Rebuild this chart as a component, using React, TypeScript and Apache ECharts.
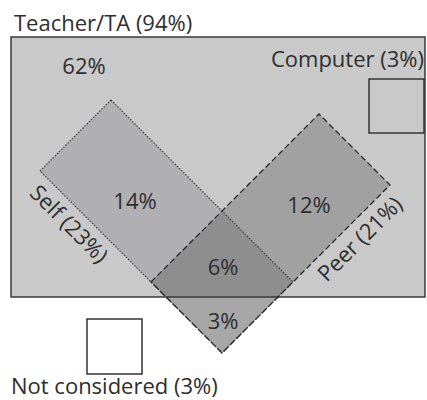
import React, { useEffect, useRef } from "react";
import * as echarts from "echarts";

const setNames = ["Teacher/TA", "Self", "Peer", "Computer", "Not considered"];
const setPercents = [94, 23, 21, 3, 3];
const regionNames = ["Teacher only", "Teacher+Self", "Teacher+Peer", "Teacher+Self+Peer", "Self+Peer"];
const regionPercents = [62, 14, 12, 6, 3];

const FONT = '22px "Open Sans", sans-serif';
const TXT = "#2e2e2e";

export default function App() {
  const ref = useRef<HTMLDivElement>(null);
  useEffect(() => {
    if (!ref.current) return;
    const chart = echarts.init(ref.current, undefined, { renderer: "svg" });

    // layout geometry
    const rect = { x: 11, y: 37, w: 414, h: 260 };
    const cx = 222, cy = 282, h = 71; // intersection diamond
    const top = [cx, cy - h], left = [cx - h, cy], right = [cx + h, cy], bottom = [cx, cy + h];
    const se = 111; // self extension up-left
    const pe = 97; // peer extension up-right
    const selfPoly = [[top[0] - se, top[1] - se], [left[0] - se, left[1] - se], bottom, right];
    const peerPoly = [left, [top[0] + pe, top[1] - pe], [right[0] + pe, right[1] - pe], bottom];
    const ry = rect.y + rect.h;
    const d = ry - cy;
    const innerDiamond = [top, right, [right[0] - d, ry], [left[0] + d, ry], left];

    const pct = (v: number) => `${v}%`;
    const label = (s: string, v: number) => `${s} (${v}%)`;

    const text = (t: string, x: number, y: number, align: string, rotation = 0) => ({
      type: "text",
      x,
      y,
      rotation,
      style: { text: t, fill: TXT, font: FONT, lineHeight: 24, align, verticalAlign: "middle" },
      z: 10,
    });

    chart.setOption({
      animation: false,
      backgroundColor: "#ffffff",
      graphic: [
        { type: "rect", shape: { x: rect.x, y: rect.y, width: rect.w, height: rect.h }, style: { fill: "#c9c9ca", stroke: "none" }, z: 1 },
        { type: "polygon", shape: { points: selfPoly }, style: { fill: "#b0b0b2" }, z: 2 },
        { type: "polygon", shape: { points: peerPoly }, style: { fill: "#a1a1a2" }, z: 2 },
        { type: "polygon", shape: { points: [top, right, bottom, left] }, style: { fill: "#a7a7a8" }, z: 3 },
        { type: "polygon", shape: { points: innerDiamond }, style: { fill: "#8e8e8f" }, z: 3 },
        { type: "rect", shape: { x: rect.x, y: rect.y, width: rect.w, height: rect.h }, style: { fill: "none", stroke: "#3a3a3a", lineWidth: 1.5 }, z: 4 },
        { type: "polygon", shape: { points: selfPoly }, style: { fill: "none", stroke: "#333", lineWidth: 1.3, lineDash: [1.3, 1.7] }, z: 5 },
        { type: "polygon", shape: { points: peerPoly }, style: { fill: "none", stroke: "#2a2a2a", lineWidth: 1.3, lineDash: [6, 3] }, z: 5 },
        { type: "rect", shape: { x: 369, y: 79, width: 55, height: 54 }, style: { fill: "none", stroke: "#333", lineWidth: 1.5 }, z: 5 },
        { type: "rect", shape: { x: 87, y: 319, width: 55, height: 55 }, style: { fill: "#ffffff", stroke: "#333", lineWidth: 1.5 }, z: 5 },
        text(label(setNames[0], setPercents[0]), 14, 22, "left"),
        text(label(setNames[3], setPercents[3]), 424, 58, "right"),
        text(label(setNames[4], setPercents[4]), 11, 385, "left"),
        text(label(setNames[1], setPercents[1]), 70, 223, "center", -Math.PI / 4),
        text(label(setNames[2], setPercents[2]), 359, 238, "center", Math.PI / 4),
        text(pct(regionPercents[0]), 84, 65, "center"),
        text(pct(regionPercents[1]), 135, 200, "center"),
        text(pct(regionPercents[2]), 309, 204, "center"),
        text(pct(regionPercents[3]), 223, 266, "center"),
        text(pct(regionPercents[4]), 223, 320, "center"),
      ],
    });
    void regionNames;
    return () => chart.dispose();
  }, []);
  return <div ref={ref} style={{ position: "fixed", left: 0, top: 0, width: 427, height: 400 }} />;
}
